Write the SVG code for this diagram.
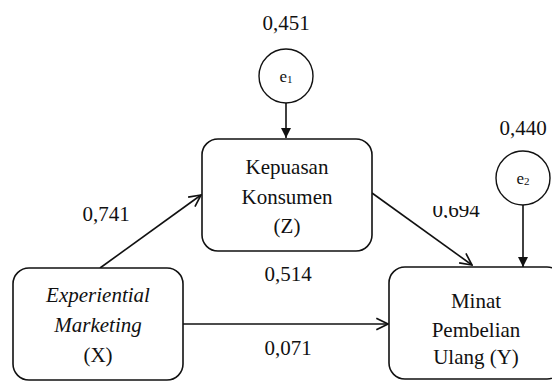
<svg xmlns="http://www.w3.org/2000/svg" width="552" height="381" viewBox="0 0 552 381">
<style>
text{font-family:"Liberation Serif","Times New Roman",serif;fill:#111;}
.lbl{font-size:21px;text-anchor:middle;}
.nt{font-size:21px;text-anchor:middle;}
.it{font-style:italic;}
.box{fill:#fff;stroke:#111;stroke-width:1.6;}
.err{fill:#fff;stroke:#111;stroke-width:1.4;}
.ln{fill:none;stroke:#111;stroke-width:1.6;}
.et{font-size:17px;text-anchor:middle;}
</style>
<defs>
<marker id="tri" viewBox="0 0 10 10" refX="10" refY="5" markerWidth="10" markerHeight="10" markerUnits="userSpaceOnUse" orient="auto">
<path d="M0,0 L10,5 L0,10 z" fill="#111"/>
</marker>
<marker id="vee" viewBox="0 0 12 12" refX="11" refY="6" markerWidth="14" markerHeight="14" markerUnits="userSpaceOnUse" orient="auto">
<path d="M1,1 L11,6 L1,11" fill="none" stroke="#111" stroke-width="1.4"/>
</marker>
<clipPath id="clip694"><rect x="420" y="206" width="80" height="12"/></clipPath>
</defs>
<g id="connectors">
<line class="ln" x1="286" y1="103" x2="286" y2="138" marker-end="url(#tri)"/>
<line class="ln" x1="523" y1="205" x2="523" y2="267" marker-end="url(#tri)"/>
<line class="ln" x1="100" y1="268" x2="201" y2="195" marker-end="url(#vee)"/>
<line class="ln" x1="372" y1="193" x2="472" y2="265" marker-end="url(#vee)"/>
<line class="ln" x1="183" y1="324" x2="388" y2="324" marker-end="url(#vee)"/>
<text class="lbl" x="106" y="221">0,741</text>
<text class="lbl" x="456" y="217" clip-path="url(#clip694)">0,694</text>
<text class="lbl" x="288" y="281">0,514</text>
<text class="lbl" x="288" y="355">0,071</text>
</g>
<g id="e1">
<text class="lbl" x="286" y="30">0,451</text>
<circle class="err" cx="286" cy="76" r="27"/>
<text class="et" x="286" y="82">e<tspan font-size="11" dy="1">1</tspan></text>
</g>
<g id="e2">
<text class="lbl" x="523" y="135">0,440</text>
<circle class="err" cx="523" cy="178" r="27"/>
<text class="et" x="523" y="184">e<tspan font-size="11" dy="1">2</tspan></text>
</g>
<g id="Z">
<rect class="box" x="202" y="139" width="170" height="112" rx="16"/>
<text class="nt" x="287" y="174">Kepuasan</text>
<text class="nt" x="287" y="204">Konsumen</text>
<text class="nt" x="287" y="233">(Z)</text>
</g>
<g id="X">
<rect class="box" x="13" y="268" width="170" height="112" rx="16"/>
<text class="nt it" x="98" y="302">Experiential</text>
<text class="nt it" x="98" y="332">Marketing</text>
<text class="nt" x="98" y="362">(X)</text>
</g>
<g id="Y">
<rect class="box" x="389" y="267" width="174" height="112" rx="16"/>
<text class="nt" x="476" y="308">Minat</text>
<text class="nt" x="476" y="337">Pembelian</text>
<text class="nt" x="476" y="364">Ulang (Y)</text>
</g>
</svg>
